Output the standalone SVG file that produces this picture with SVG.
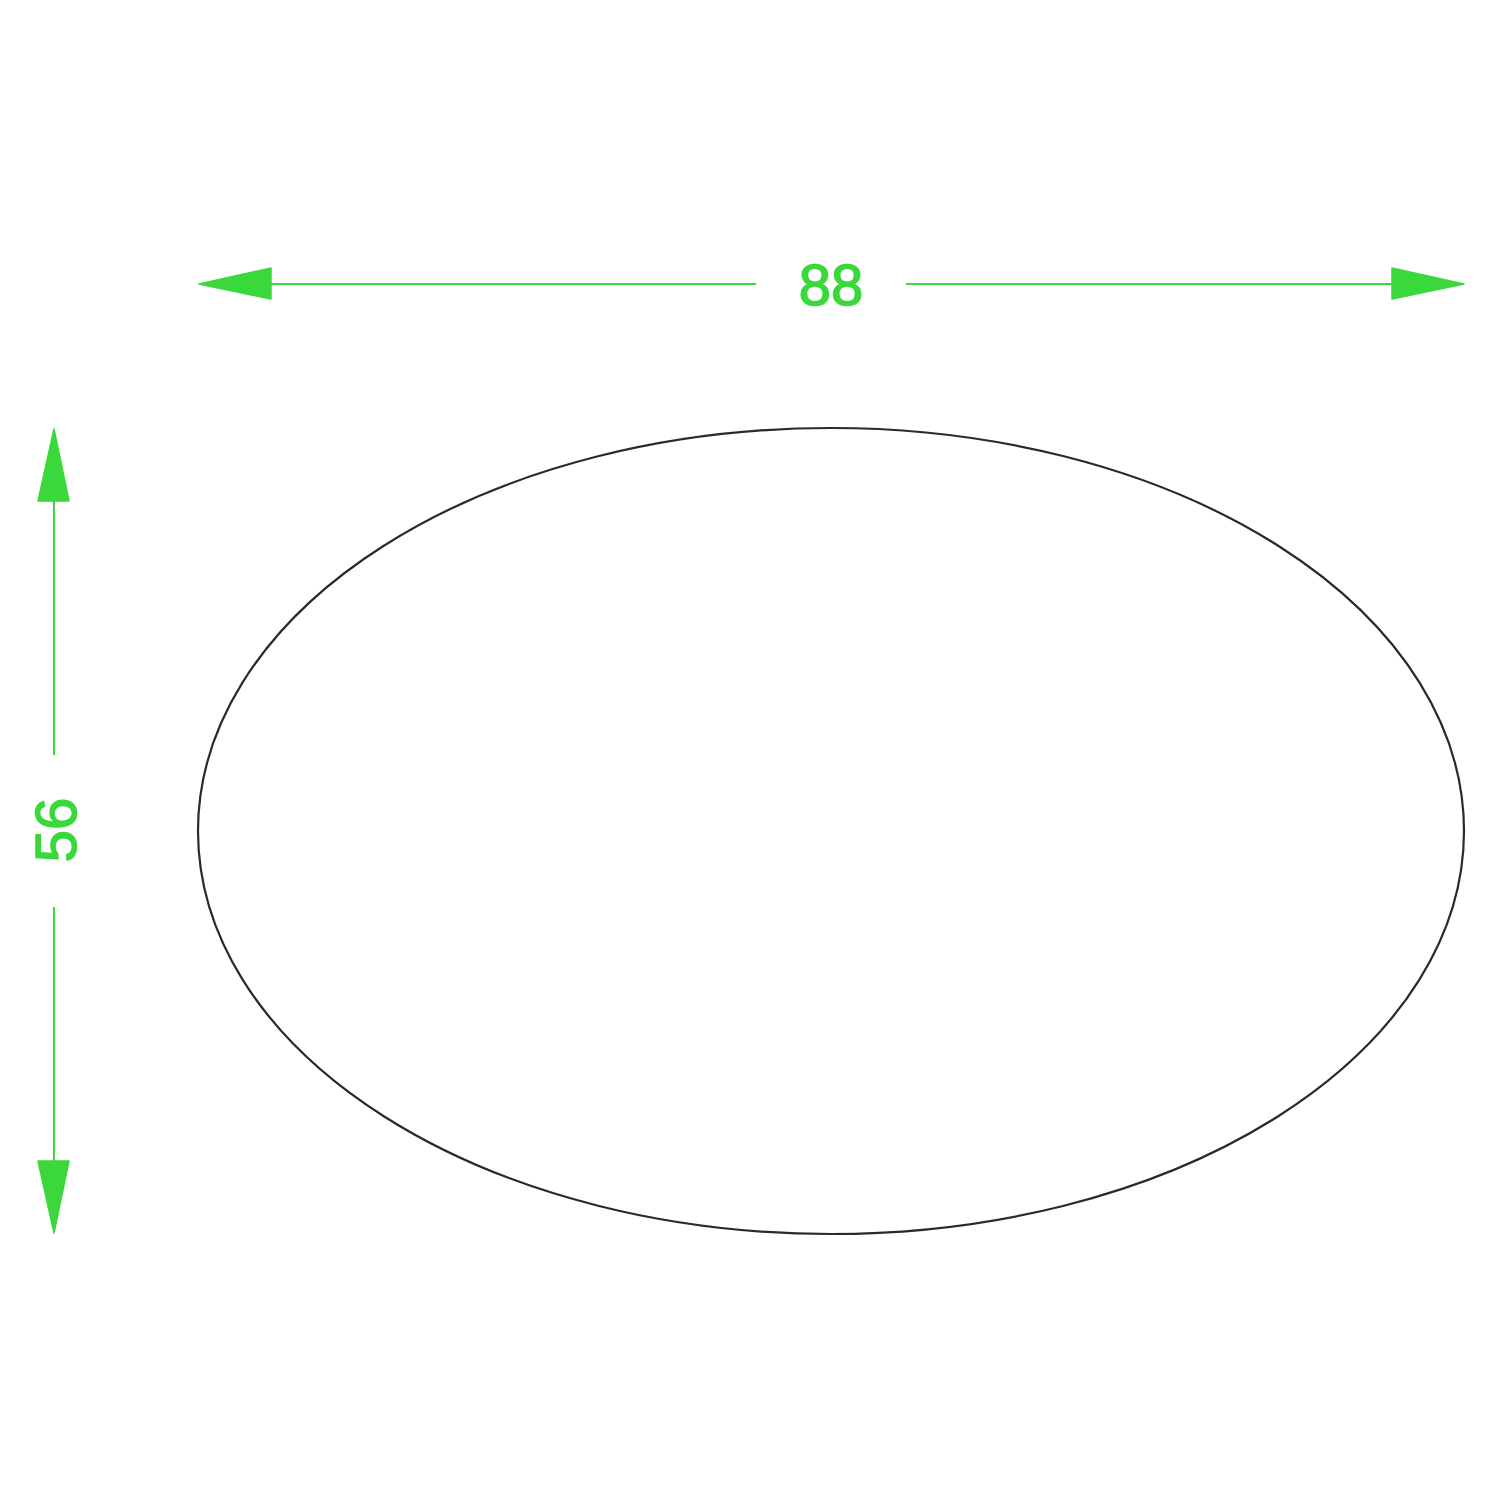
<svg xmlns="http://www.w3.org/2000/svg" width="1500" height="1500" viewBox="0 0 1500 1500">
<style>
.dim{stroke:#3ad83a;stroke-width:2;fill:none}
.ah{fill:#3ad83a;stroke:#3ad83a;stroke-width:1.5;stroke-linejoin:round}
.lbl{fill:#3ad83a;stroke:#3ad83a;stroke-width:1.5;font-family:"Liberation Sans",Arial,sans-serif;font-size:58px;text-anchor:middle}
</style>
<rect width="1500" height="1500" fill="#fff"/>
<g id="shape">
<ellipse cx="831" cy="831" rx="633" ry="403" fill="none" stroke="#2a2a2a" stroke-width="2.2"/>
</g>
<g id="connectors">
<line class="dim" x1="270" y1="284" x2="756" y2="284"/>
<line class="dim" x1="906" y1="284" x2="1394" y2="284"/>
<polygon class="ah" points="199,284 271,268 271,299"/>
<polygon class="ah" points="1464,284 1392,268 1392,299"/>
<line class="dim" x1="54" y1="500" x2="54" y2="755"/>
<line class="dim" x1="54" y1="907" x2="54" y2="1162"/>
<polygon class="ah" points="54,429 38,501 69,501"/>
<polygon class="ah" points="54,1233 38,1161 69,1161"/>
</g>
<g id="label-88">
<text class="lbl" x="831" y="305">88</text>
</g>
<g id="label-56">
<text class="lbl" x="0" y="0" transform="translate(76,830) rotate(-90)">56</text>
</g>
</svg>
